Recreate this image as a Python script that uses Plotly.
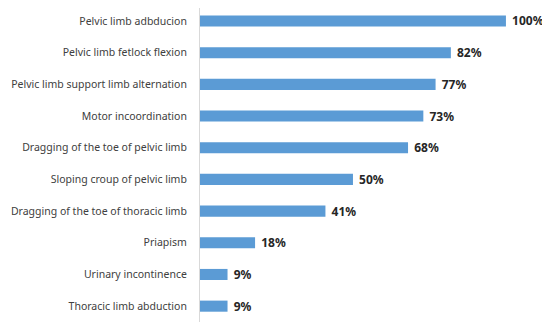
import plotly.graph_objects as go

# % Data (top to bottom as shown in the chart)
signs = [
    "Pelvic limb adbducion",
    "Pelvic limb fetlock flexion",
    "Pelvic limb support limb alternation",
    "Motor incoordination",
    "Dragging of the toe of pelvic limb",
    "Sloping croup of pelvic limb",
    "Dragging of the toe of thoracic limb",
    "Priapism",
    "Urinary incontinence",
    "Thoracic limb abduction",
]
percent = [100, 82, 77, 73, 68, 50, 41, 18, 9, 9]

fig = go.Figure(
    go.Bar(
        x=percent,
        y=signs,
        orientation="h",
        marker=dict(color="#5B9BD5", line=dict(width=0)),
        texttemplate=" %{x}%",
        textposition="outside",
        constraintext="none",
        textfont=dict(family="Noto Sans", size=12, color="#262626", weight="bold"),
        cliponaxis=False,
    )
)

# the page body adds 8px on the left/top, so the figure is a bit smaller
fig.update_layout(
    width=542,
    height=319,
    margin=dict(l=192, r=0, t=0, b=5),
    paper_bgcolor="white",
    plot_bgcolor="white",
    showlegend=False,
    bargap=0.65,
    font=dict(family="Noto Sans", size=10.5, color="#404040"),
)
fig.update_xaxes(range=[0, 114.4], visible=False)
fig.update_yaxes(
    range=[9.5, -0.41],
    automargin=False,
    showline=True,
    linecolor="#D9D9D9",
    linewidth=1,
    ticks="",
    showgrid=False,
    ticklabelstandoff=10,
)

fig.write_html("out.html")
